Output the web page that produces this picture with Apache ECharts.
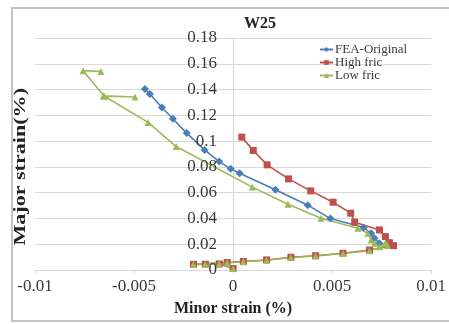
<!DOCTYPE html>
<html>
<head>
<meta charset="utf-8">
<script src="https://cdn.jsdelivr.net/npm/echarts@6/dist/echarts.min.js"></script>
<style>
  html, body { margin: 0; padding: 0; background: #fff; }
  #chart { width: 449px; height: 324px; }
</style>
</head>
<body>
<div id="chart"></div>
<script>
// Strain path W25: minor strain (x) vs major strain (y), both in %
const chartTitle = 'W25';
const xTitle = 'Minor strain (%)';
const yTitle = 'Major strain(%)';
const seriesNames = ['FEA-Original', 'High fric', 'Low fric'];

const feaOriginal = [
  [-0.00445, 0.1404], [-0.00420, 0.1365], [-0.00359, 0.1261], [-0.00304, 0.1173],
  [-0.00234, 0.1062], [-0.00144, 0.0932], [-0.00070, 0.0841], [-0.00012, 0.0785],
  [0.00033, 0.0751], [0.00214, 0.0622], [0.00377, 0.0503], [0.00492, 0.0399],
  [0.00659, 0.0329], [0.00697, 0.0285], [0.00714, 0.0246], [0.00739, 0.0207]
];

const highFric = [
  [0.00000, 0.0012], [-0.00070, 0.0047], [-0.00140, 0.0045], [-0.00200, 0.0044],
  [-0.00030, 0.0058], [0.00052, 0.0066], [0.00169, 0.0078], [0.00292, 0.0099],
  [0.00417, 0.0111], [0.00555, 0.0130], [0.00689, 0.0155], [0.00810, 0.0189],
  [0.00789, 0.0212], [0.00769, 0.0259], [0.00739, 0.0311], [0.00614, 0.0371],
  [0.00594, 0.0441], [0.00505, 0.0526], [0.00392, 0.0614], [0.00280, 0.0707],
  [0.00172, 0.0816], [0.00102, 0.0927], [0.00044, 0.1031]
];

const lowFric = [
  [0.00000, 0.0012], [-0.00070, 0.0047], [-0.00140, 0.0045], [-0.00200, 0.0044],
  [-0.00030, 0.0056], [0.00052, 0.0064], [0.00169, 0.0076], [0.00292, 0.0097],
  [0.00417, 0.0109], [0.00555, 0.0128], [0.00689, 0.0150], [0.00780, 0.0190],
  [0.00770, 0.0212], [0.00739, 0.0181], [0.00714, 0.0207], [0.00697, 0.0233],
  [0.00680, 0.0285], [0.00630, 0.0324], [0.00444, 0.0402], [0.00277, 0.0510],
  [0.00097, 0.0643], [-0.00287, 0.0958], [-0.00429, 0.1145], [-0.00654, 0.1352],
  [-0.00495, 0.1342], [-0.00650, 0.1348], [-0.00757, 0.1546], [-0.00667, 0.1541]
];

const xTicks = { min: -0.01, max: 0.01, step: 0.005 };
const yTicks = { min: 0, max: 0.18, step: 0.02 };
const yTickLabels = ['0', '0.02', '0.04', '0.06', '0.08', '0.1', '0.12', '0.14', '0.16', '0.18'];

const colors = ['#4A7EBB', '#C0504D', '#9BBB59'];
const serif = '"Liberation Serif", "DejaVu Serif", serif';
const textColor = '#3a3a3a';
const gridColor = '#d9d9d9';
const gridBox = { left: 35, right: 16, top: 38, bottom: 54 };
const yLabelGap = 16;

const chart = echarts.init(document.getElementById('chart'), null, { renderer: 'canvas' });

function lineSeries(name, data, symbol, size, color) {
  return {
    name: name,
    type: 'line',
    data: data,
    symbol: symbol,
    symbolSize: size,
    showSymbol: true,
    smooth: false,
    lineStyle: { color: color, width: 1.6 },
    itemStyle: { color: color, borderWidth: 0 },
    emphasis: { disabled: true },
    animation: false
  };
}

// Builds the full option; yOffset moves the vertical axis inward and
// yLabels are the tick texts placed beside it.
function buildOption(yOffset, yLabels) {
  const graphics = [
    {
      type: 'rect',
      shape: { x: 12, y: 8, width: 460, height: 313 },
      style: { fill: 'none', stroke: '#c4c4c4', lineWidth: 2 },
      silent: true, z: -1
    },
    {
      type: 'text',
      left: 13, top: 88,
      rotation: Math.PI / 2,
      scaleX: 1.38,
      style: {
        text: yTitle,
        font: 'bold 16px ' + serif,
        fill: '#222'
      }
    }
  ].concat(yLabels);

  return {
    animation: false,
    color: colors,
    grid: gridBox,
    title: {
      text: chartTitle,
      left: 239, top: 11,
      textStyle: { fontFamily: serif, fontSize: 16, fontWeight: 'bold', color: '#222' }
    },
    legend: {
      orient: 'vertical',
      left: 314, top: 38,
      itemWidth: 13, itemHeight: 6, itemGap: 0,
      textStyle: { fontFamily: serif, fontSize: 13, color: textColor, lineHeight: 10, padding: [0, 0, 0, -3] },
      data: seriesNames
    },
    xAxis: {
      type: 'value',
      min: xTicks.min, max: xTicks.max, interval: xTicks.step,
      name: xTitle,
      nameLocation: 'middle',
      nameGap: 31,
      nameTextStyle: { fontFamily: serif, fontSize: 16, fontWeight: 'bold', color: '#222' },
      axisLine: { show: true, onZero: false, lineStyle: { color: gridColor } },
      axisTick: { show: true, length: 4, lineStyle: { color: gridColor } },
      splitLine: { show: false },
      axisLabel: { fontFamily: serif, fontSize: 17, color: textColor, margin: 8 }
    },
    yAxis: {
      type: 'value',
      min: yTicks.min, max: yTicks.max, interval: yTicks.step,
      offset: yOffset,
      axisLine: { show: true, onZero: false, lineStyle: { color: gridColor } },
      axisTick: { show: false },
      splitLine: { show: true, lineStyle: { color: gridColor, width: 1 } },
      axisLabel: { show: false }
    },
    graphic: graphics,
    series: [
      lineSeries(seriesNames[0], feaOriginal, 'diamond', 8, colors[0]),
      lineSeries(seriesNames[1], highFric, 'rect', 7, colors[1]),
      lineSeries(seriesNames[2], lowFric, 'triangle', 7, colors[2])
    ]
  };
}

// First pass lays out the scales; the second places the vertical axis at
// minor strain = 0 and writes its tick labels just left of that line.
chart.setOption(buildOption(0, []));
const zeroX = chart.convertToPixel({ xAxisIndex: 0 }, 0);
const yLabelElements = yTickLabels.map(function (label, i) {
  const value = yTicks.min + i * yTicks.step;
  const py = chart.convertToPixel({ yAxisIndex: 0 }, value);
  return {
    type: 'text',
    x: zeroX - yLabelGap,
    y: py,
    z: 5,
    style: {
      text: label,
      font: '17px ' + serif,
      fill: textColor,
      align: 'right',
      verticalAlign: 'middle'
    }
  };
});
chart.setOption(buildOption(-(zeroX - gridBox.left), yLabelElements), { notMerge: true });
</script>
</body>
</html>
